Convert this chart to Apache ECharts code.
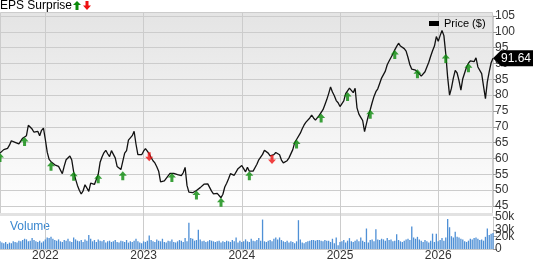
<!DOCTYPE html>
<html>
<head>
<meta charset="utf-8">
<script src="https://cdn.jsdelivr.net/npm/echarts@6/dist/echarts.min.js"></script>
<style>
  html, body { margin: 0; padding: 0; background: #fff; }
  #chart { width: 533px; height: 262px; }
</style>
</head>
<body>
<div id="chart"></div>
<script>
// weekly closes, starting the week of 2021-07-23
const startDate = '2021-07-23';

const price = [
  61.7, 62.3, 62.8, 63.2, 63.2, 64.2, 65.6, 65.2, 65.1, 65.2,
  64.6, 65, 66.4, 66.8, 67.2, 70.5, 70, 69.3, 68.3, 68.3,
  68.6, 67.2, 68.9, 69.6, 66, 62, 59.7, 59, 59.2, 58,
  57.6, 57.5, 57.2, 55.2, 57.6, 59.6, 60.2, 60.8, 59.5, 55.8,
  53.5, 51.5, 50, 48.8, 49.8, 51.7, 52.2, 49.6, 52.2, 51.8,
  51.8, 52.1, 55, 58.8, 60.5, 61.8, 62.6, 61.5, 60.6, 62.5,
  62.2, 60.2, 57.5, 57.2, 56.5, 56, 61.7, 62.5, 65.8, 65.8,
  67.2, 68.6, 64.5, 61.2, 60.9, 61.2, 62.3, 63.1, 62.3, 61.5,
  60.3, 59.3, 58.6, 57.4, 56, 52.6, 52.5, 52.9, 53.7, 54.5,
  55.3, 55.4, 55.3, 54.9, 54.9, 55, 54.6, 55.5, 57.2, 51.5,
  49.4, 49.1, 49.2, 49.4, 49.9, 50.3, 50.8, 51.3, 51.9, 52.4,
  52, 51.4, 49.7, 48.8, 48.6, 49, 49, 47.6, 48.7, 51,
  52.2, 53.6, 55.2, 54.6, 54.7, 55.3, 56.8, 57.4, 57.8, 56.8,
  55.8, 57.2, 56, 55.8, 56, 56.4, 58.2, 59.6, 60, 61.3,
  62.6, 62.6, 61.7, 60.8, 60.6, 61.2, 61.9, 62.5, 61.2, 59.5,
  58.6, 58.3, 59.3, 60.2, 60.8, 62.8, 65, 66, 66.6, 68,
  69.4, 70.6, 71.5, 72.1, 72.8, 73.7, 72.8, 72.1, 71.6, 73.6,
  74.2, 75.4, 77, 78.6, 80.5, 82.6, 81, 79.8, 78.3, 77.6,
  76.4, 75.9, 78.2, 80.5, 81, 82.2, 81.5, 80.8, 82.2, 76,
  74, 73, 72, 68.5, 71, 73.5, 75.4, 77.6, 79.6, 81.1,
  82, 83.7, 85.4, 85.8, 87.6, 89.6, 90.8, 90.8, 93, 94.3,
  95.4, 96.4, 95.5, 95, 94.7, 93.9, 91.9, 89.6, 88.2, 87.8,
  87.9, 88.2, 86.7, 86, 86.3, 87.4, 88.9, 90.4, 92.3, 94,
  95.5, 98.5, 97, 98.8, 100.4, 98.8, 93, 85.6, 80, 82.2,
  85.4, 87.8, 87, 84.6, 81.6, 85.2, 85.5, 88.9, 90.1, 90.8,
  90.4, 90.6, 91.8, 88.9, 88.4, 86.8, 82.8, 78.9, 84.2, 87.4, 90.2, 91.64
];

// weekly volume, thousands
const volumeK = [
  12, 10, 9, 11, 8, 10, 9, 12, 11, 10,
  13, 12, 14, 16, 15, 12, 13, 17, 14, 12,
  11, 13, 10, 12, 15, 18, 17, 19, 16, 14,
  13, 15, 12, 11, 14, 13, 16, 12, 11, 18,
  15, 13, 12, 14, 11, 15, 13, 22, 16, 12,
  14, 11, 15, 13, 12, 14, 10, 12, 13, 11,
  12, 14, 11, 10, 13, 12, 11, 14, 10, 12,
  11, 13, 16, 12, 10, 9, 12, 11, 13, 21,
  14, 12, 11, 15, 13, 12, 16, 11, 10, 13,
  12, 15, 11, 10, 12, 14, 13, 11, 17, 12,
  41, 17, 16, 13, 14, 30, 15, 12, 13, 11,
  12, 14, 13, 12, 11, 12, 13, 10, 12, 11,
  13, 12, 11, 14, 12, 18, 10, 13, 11, 12,
  15, 12, 11, 16, 13, 12, 14, 17, 13, 46,
  12, 11, 13, 14, 12, 16, 18, 15, 18, 14,
  12, 11, 13, 10, 12, 11, 9, 12, 45, 15,
  10, 9, 11, 12, 13, 14, 14, 13, 14, 14,
  13, 12, 14, 13, 13, 11, 16, 9, 18, 6,
  11, 12, 14, 10, 13, 17, 12, 11, 13, 15,
  12, 18, 13, 11, 32, 10, 14, 15, 12, 31,
  15, 14, 16, 15, 13, 17, 14, 15, 12, 13,
  23, 14, 12, 11, 13, 15, 16, 14, 35, 18,
  16, 19, 15, 13, 11, 14, 12, 10, 13, 24,
  11, 24, 12, 14, 17, 13, 18, 47, 34, 20,
  18, 27, 19, 18, 16, 15, 12, 11, 13, 16,
  15, 17, 18, 16, 14, 15, 13, 19, 32, 22, 24, 25
];

// week indexes of earnings reports
const epsBeat = [0, 13, 27, 39, 52, 65, 91, 104, 117, 132, 157, 170, 184, 196, 209, 221, 236, 248];
const epsMiss = [79, 144];

const weeks = price.map((_, i) => {
  const d = new Date(Date.parse(startDate + 'T00:00:00Z') + i * 7 * 864e5);
  return d.toISOString().slice(0, 10);
});
const yearStart = new Set();
weeks.forEach((w, i) => {
  if (i > 0 && w.slice(0, 4) !== weeks[i - 1].slice(0, 4)) yearStart.add(i);
});
const isYearStart = (idx) => yearStart.has(idx);

const FONT = 'Liberation Sans, Arial, sans-serif';
const upArrow = 'path://M4,0L8,4.5L5.5,4.5L5.5,9L2.5,9L2.5,4.5L0,4.5Z';
const downArrow = 'path://M2.5,0L5.5,0L5.5,4.5L8,4.5L4,9L0,4.5L2.5,4.5Z';
const last = price.length - 1;

const chart = echarts.init(document.getElementById('chart'));

const option = {
  animation: false,
  textStyle: { fontFamily: FONT },
  title: {
    text: 'EPS Surprise',
    left: 0,
    top: 0,
    padding: 0,
    textStyle: { fontSize: 12, fontWeight: 'normal', color: '#000', fontFamily: FONT }
  },
  legend: {
    data: ['Price ($)'],
    left: 429,
    top: 18,
    padding: 0,
    icon: 'rect',
    itemWidth: 10,
    itemHeight: 5,
    textStyle: { fontSize: 11, color: '#000', fontFamily: FONT }
  },
  graphic: [
    {
      type: 'rect', z: -100, silent: true,
      shape: { x: 0.5, y: 12.5, width: 492, height: 201 },
      style: {
        fill: new echarts.graphic.LinearGradient(0, 0, 0, 1, [
          { offset: 0, color: '#e4e4e4' },
          { offset: 1, color: '#ffffff' }
        ]),
        stroke: '#cccccc', lineWidth: 1
      }
    },
    {
      type: 'rect', z: -99, silent: true,
      shape: { x: 0, y: 213, width: 493, height: 3 },
      style: { fill: '#e2e2e2' }
    },
    {
      type: 'polygon', silent: true,
      shape: { points: [[77, 1], [81, 5], [78.5, 5], [78.5, 10], [75.5, 10], [75.5, 5], [73, 5]] },
      style: { fill: '#0a8a0a' }
    },
    {
      type: 'polygon', silent: true,
      shape: { points: [[85.5, 1], [88.5, 1], [88.5, 5.5], [91, 5.5], [87, 10], [83, 5.5], [85.5, 5.5]] },
      style: { fill: '#ee1111' }
    },
    {
      type: 'text', silent: true, left: 10, top: 221,
      style: { text: 'Volume', fill: '#3a87cf', fontSize: 12, fontFamily: FONT }
    }
  ],
  grid: [
    { left: 0, right: 40, top: 16, height: 190 },
    { left: 0, right: 40, top: 217, height: 34 },
    { left: 0, right: 40, top: 12, bottom: 11 }
  ],
  xAxis: [
    {
      gridIndex: 0, type: 'category', data: weeks, boundaryGap: false,
      axisLine: { show: false }, axisTick: { show: false }, axisLabel: { show: false },
      splitLine: { show: false }
    },
    {
      gridIndex: 1, type: 'category', data: weeks, boundaryGap: false,
      axisLine: { show: true, lineStyle: { color: '#cccccc' } },
      axisTick: { show: false },
      axisLabel: {
        interval: isYearStart,
        formatter: (v) => v.slice(0, 4),
        fontSize: 12, color: '#333', margin: 1, fontFamily: FONT
      },
      splitLine: { show: false }
    },
    {
      gridIndex: 2, type: 'category', data: weeks, boundaryGap: false,
      axisLine: { show: false }, axisTick: { show: false }, axisLabel: { show: false },
      splitLine: { show: true, interval: isYearStart, lineStyle: { color: '#cccccc', width: 1 } }
    }
  ],
  yAxis: [
    {
      gridIndex: 0, type: 'value', position: 'right',
      min: 45, max: 105, interval: 5,
      axisLine: { show: true, lineStyle: { color: '#cccccc' } },
      axisTick: { show: true, length: 4, lineStyle: { color: '#999' } },
      axisLabel: { fontSize: 12, color: '#333', margin: 2, fontFamily: FONT, hideOverlap: false },
      splitLine: { show: true, lineStyle: { color: '#cccccc' } }
    },
    {
      gridIndex: 1, type: 'value', position: 'right',
      min: 0, max: 50, interval: 10,
      axisLine: { show: true, lineStyle: { color: '#cccccc' } },
      axisTick: { show: true, length: 4, lineStyle: { color: '#999' } },
      axisLabel: {
        fontSize: 12, color: '#333', margin: 2, fontFamily: FONT,
        hideOverlap: false, showMinLabel: true, showMaxLabel: true,
        formatter: (v) => (v === 0 ? '0' : v + 'k')
      },
      splitLine: { show: false }
    },
    { gridIndex: 2, type: 'value', show: false, splitLine: { show: false } }
  ],
  series: [
    {
      name: 'Price ($)',
      type: 'line',
      xAxisIndex: 0, yAxisIndex: 0,
      data: price,
      showSymbol: false,
      clip: false,
      z: 3,
      color: '#000',
      lineStyle: { color: '#111', width: 1.3 },
      markPoint: {
        symbol: 'path://M0,8L8,0L42,0L42,16L8,16Z',
        symbolSize: [42, 16],
        symbolOffset: [21, 0],
        itemStyle: { color: '#000' },
        label: {
          show: true, color: '#fff', fontSize: 12, fontFamily: FONT,
          offset: [2, 0],
          formatter: (p) => p.value.toFixed(2)
        },
        data: [{ coord: [last, price[last]], value: price[last] }]
      }
    },
    {
      name: 'beat',
      type: 'scatter',
      xAxisIndex: 0, yAxisIndex: 0,
      data: epsBeat.map((i) => [i, price[i]]),
      symbol: upArrow,
      symbolSize: [8, 9],
      symbolOffset: [0, 4.5],
      itemStyle: { color: '#0a8a0a' },
      z: 4
    },
    {
      name: 'miss',
      type: 'scatter',
      xAxisIndex: 0, yAxisIndex: 0,
      data: epsMiss.map((i) => [i, price[i]]),
      symbol: downArrow,
      symbolSize: [8, 9],
      symbolOffset: [0, 3],
      itemStyle: { color: '#ee1111' },
      z: 4
    },
    {
      name: 'Volume',
      type: 'bar',
      xAxisIndex: 1, yAxisIndex: 1,
      data: volumeK,
      barWidth: '70%',
      itemStyle: { color: '#4f90d6' }
    }
  ]
};

chart.setOption(option);
</script>
</body>
</html>
